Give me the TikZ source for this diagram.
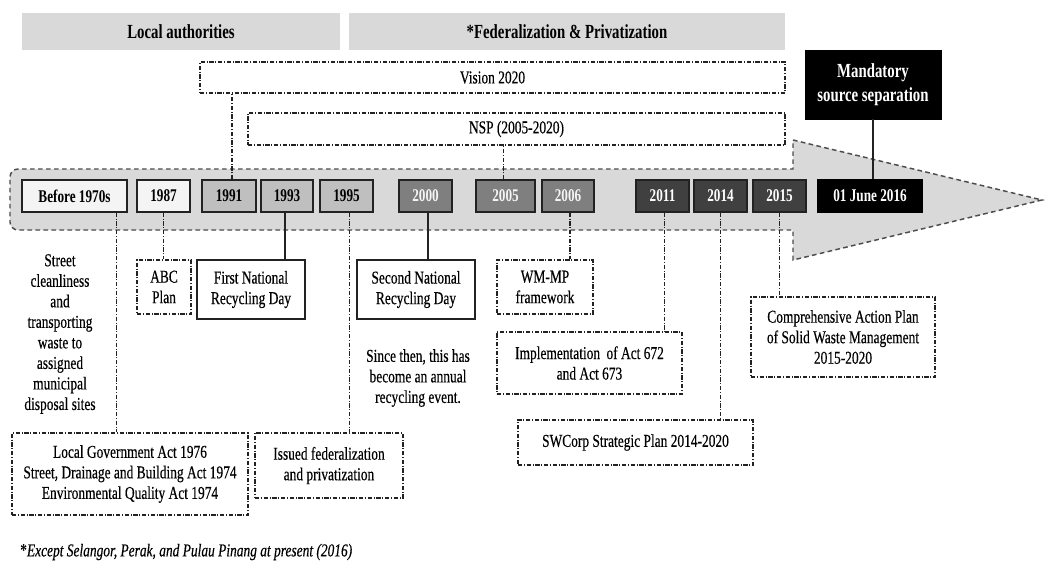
\documentclass[tikz,border=0pt]{standalone}
\usepackage{fontspec}
\setmainfont{Liberation Serif}[FakeStretch=0.74, UprightFeatures={FakeBold=0.35}, ItalicFeatures={FakeBold=0.35}]
\newcommand{\bodyf}{\fontsize{13.6}{15.4}\selectfont}
\newcommand{\bodybf}{\fontsize{13.4}{15.4}\selectfont\bfseries}
\newcommand{\titlef}{\fontsize{15}{17}\selectfont\bfseries}
\definecolor{barfill}{HTML}{D9D9D9}
\definecolor{c1}{HTML}{F4F4F4}
\definecolor{c2}{HTML}{BFBFBF}
\definecolor{c3}{HTML}{7F7F7F}
\definecolor{c4}{HTML}{404040}
\definecolor{linec}{HTML}{222222}
\tikzset{
  every node/.style={font=\bodyf, inner sep=0pt, align=center, text=black},
  boxat/.style args={#1/#2/#3/#4}{at={(#1/2+#3/2,#2/2+#4/2)}, minimum width={(#3-#1)*0.75pt}, minimum height={(#4-#2)*0.75pt}},
  titlebar/.style={fill=barfill, font=\titlef},
  yearbox/.style={draw=linec, line width=1.1pt, font=\bodybf},
  ddbox/.style={draw=linec, line width=1pt, dash pattern=on 3.2pt off 1.2pt on 0.9pt off 1.2pt},
  solidbox/.style={draw=linec, line width=1.1pt},
  ddline/.style={draw=linec, line width=1pt, dash pattern=on 3.2pt off 1.2pt on 0.9pt off 1.2pt},
  solidline/.style={draw=linec, line width=1.1pt},
  bigarrow/.style={draw=black!70, fill=barfill, line width=1.1pt, dash pattern=on 3.5pt off 2.5pt},
}
\begin{document}
\begin{tikzpicture}[x=0.75pt,y=-0.75pt]
\useasboundingbox (0,0) rectangle (1054,562);
\fill[white] (0,0) rectangle (1054,562);

% title bars
\node (la) [titlebar, boxat=22/13/340/50] {Local authorities};
\node (fp) [titlebar, boxat=349/13/785/50] {*Federalization \& Privatization};

% policy boxes
\node (vision) [ddbox, boxat=200/62/785/93] {Vision 2020};
\node (nsp) [ddbox, boxat=248/113/785/145] {NSP (2005-2020)};

% big arrow
\draw[bigarrow] (400,230) [rounded corners=6] -- (10,230) -- (10,169) -- (400,169) [sharp corners]
  -- (793,169) -- (793,140) -- (1042,200) -- (793,260) -- (793,230) -- cycle;

% mandatory
\node (mand) [fill=black, draw=black, text=white, font=\titlef, boxat=805/50/941/119] {Mandatory\\[1pt]source separation};

% year boxes
\node (y1970) [yearbox, fill=c1, boxat=22/180/127/212] {Before 1970s};
\node (y1987) [yearbox, fill=c1, boxat=137/180/190/212] {1987};
\node (y1991) [yearbox, fill=c2, boxat=202/180/256/212] {1991};
\node (y1993) [yearbox, fill=c2, boxat=261/180/313/212] {1993};
\node (y1995) [yearbox, fill=c2, boxat=320/180/373/212] {1995};
\node (y2000) [yearbox, fill=c3, text=black!4, boxat=399/180/452/212] {2000};
\node (y2005) [yearbox, fill=c3, text=black!4, boxat=476/180/535/212] {2005};
\node (y2006) [yearbox, fill=c3, text=black!4, boxat=542/180/594/212] {2006};
\node (y2011) [yearbox, fill=c4, text=white, boxat=636/180/689/212] {2011};
\node (y2014) [yearbox, fill=c4, text=white, boxat=694/180/747/212] {2014};
\node (y2015) [yearbox, fill=c4, text=white, boxat=753/180/806/212] {2015};
\node (y2016) [yearbox, fill=black, draw=black, text=white, boxat=818/180/922/212] {01 June 2016};

% lower items
\node (street) at (60,334) {Street\\cleanliness\\and\\transporting\\waste to\\assigned\\municipal\\disposal sites};
\node (abc) [ddbox, boxat=137/260/191/314] {ABC\\Plan};
\node (fnrd) [solidbox, boxat=197/260/305/319] {First National\\Recycling Day};
\node (snrd) [solidbox, boxat=357/260/475/319] {Second National\\Recycling Day};
\node (since) at (418,378) {Since then, this has\\become an annual\\recycling event.};
\node (wmmp) [ddbox, boxat=497/260/593/314] {WM-MP\\framework};
\node (impl) [ddbox, boxat=497/332/682/394] {Implementation\, of Act 672\\and Act 673};
\node (swc) [ddbox, boxat=518/420/753/465] {SWCorp Strategic Plan 2014-2020};
\node (cap) [ddbox, boxat=751/297/935/377] {Comprehensive Action Plan\\of Solid Waste Management\\2015-2020};
\node (lga) [ddbox, boxat=12/433/248/515] {Local Government Act 1976\\Street, Drainage and Building Act 1974\\Environmental Quality Act 1974};
\node (iss) [ddbox, boxat=255/433/403/498] {Issued federalization\\and privatization};

% footnote
\node (foot) [anchor=west] at (20,552) {\textbf{*}\textit{Except Selangor, Perak, and Pulau Pinang at present (2016)}};

% connectors
\draw[ddline] ([xshift=2.25pt]y1991.north) -- ([xshift=2.25pt]y1991.north |- vision.south);
\draw[ddline] ([xshift=-1.5pt]y2005.north) -- ([xshift=-1.5pt]y2005.north |- nsp.south);
\draw[solidline, line width=1.5pt] (mand.south) -- (mand.south |- y2016.north);
\draw[ddline] ([xshift=-8.25pt]y1970.south east) -- ([xshift=-8.25pt]y1970.south east |- lga.north);
\draw[ddline] (y1987.south) -- (y1987.south |- abc.north);
\draw[solidline] ([xshift=-1.5pt]y1993.south) -- ([xshift=-1.5pt]y1993.south |- fnrd.north);
\draw[ddline] ([xshift=2pt]y1995.south) -- ([xshift=2pt]y1995.south |- iss.north);
\draw[solidline] ([xshift=2pt]y2000.south) -- ([xshift=2pt]y2000.south |- snrd.north);
\draw[ddline] ([xshift=1.5pt]y2006.south) -- ([xshift=1.5pt]y2006.south |- wmmp.north);
\draw[ddline] ([xshift=1.5pt]y2011.south) -- ([xshift=1.5pt]y2011.south |- impl.north);
\draw[ddline] (y2014.south) -- (y2014.south |- swc.north);
\draw[ddline] (y2015.south) -- (y2015.south |- cap.north);
\end{tikzpicture}
\end{document}
